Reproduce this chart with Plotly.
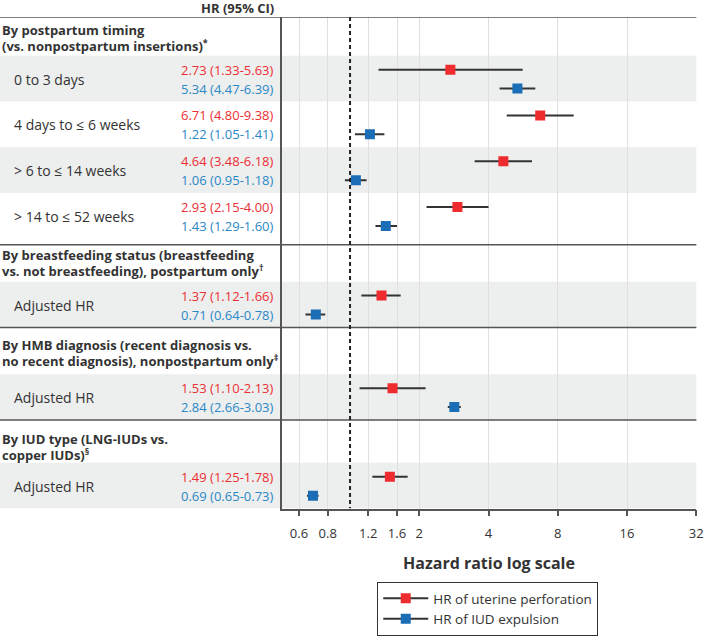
import math
import plotly.graph_objects as go

# ---------------- data ----------------
section_titles = [
    ["By postpartum timing", "(vs. nonpostpartum insertions)<sup>*</sup>"],
    ["By breastfeeding status (breastfeeding", "vs. not breastfeeding), postpartum only<sup>†</sup>"],
    ["By HMB diagnosis (recent diagnosis vs.", "no recent diagnosis), nonpostpartum only<sup>‡</sup>"],
    ["By IUD type (LNG-IUDs vs.", "copper IUDs)<sup>§</sup>"],
]
row_labels = [
    ["0 to 3 days", "4 days to ≤ 6 weeks", "> 6 to ≤ 14 weeks", "> 14 to ≤ 52 weeks"],
    ["Adjusted HR"],
    ["Adjusted HR"],
    ["Adjusted HR"],
]
perf_hr = [2.73, 6.71, 4.64, 2.93, 1.37, 1.53, 1.49]
perf_lo = [1.33, 4.80, 3.48, 2.15, 1.12, 1.10, 1.25]
perf_hi = [5.63, 9.38, 6.18, 4.00, 1.66, 2.13, 1.78]
exp_hr = [5.34, 1.22, 1.06, 1.43, 0.71, 2.84, 0.69]
exp_lo = [4.47, 1.05, 0.95, 1.29, 0.64, 2.66, 0.65]
exp_hi = [6.39, 1.41, 1.18, 1.60, 0.78, 3.03, 0.73]
tick_vals = [0.6, 0.8, 1.2, 1.6, 2, 4, 8, 16, 32]
tick_text = ["0.6", "0.8", "1.2", "1.6", "2", "4", "8", "16", "32"]
series_names = ["HR of uterine perforation", "HR of IUD expulsion"]

# ---------------- layout constants ----------------
W, H = 711, 636
TOP, BOTTOM = 17, 511
PLOT_L, PLOT_R = 285, 703.3
VAL_X = 279
FONT = "Open Sans"
RED_M, BLUE_M = "#ee2b2e", "#1b6db5"
RED_T, BLUE_T = "#ec2f33", "#2a88c6"
TXT = "#333333"
header_h = [39, 37, 47, 43]
header_line1 = [13, 10.5, 17.5, 19]
line_gap = 15.5
band_h = 46
sec_pad = [6, 0, 0, 0]

def px(x):
    return x / W

def py(y):
    return 1 - y / H

# compute row geometry
shapes, annotations = [], []
red_y, blue_y = [], []
separators = [TOP]
y = TOP
for s, lines in enumerate(section_titles):
    for k, line in enumerate(lines):
        annotations.append(dict(xref="paper", yref="y", x=px(0), y=y + header_line1[s] + k * line_gap,
                                xanchor="left", yanchor="middle", align="left",
                                text="<b>" + line + "</b>",
                                font=dict(family=FONT, size=13, color=TXT), showarrow=False))
    yb = y + header_h[s]
    for r, lab in enumerate(row_labels[s]):
        if r % 2 == 0:
            shapes.append(dict(type="rect", xref="paper", yref="y", x0=0, x1=px(PLOT_R),
                               y0=yb, y1=yb + band_h, fillcolor="#edeeee",
                               line=dict(width=0), layer="below"))
        red_y.append(yb + 14)
        blue_y.append(yb + 33)
        annotations.append(dict(xref="paper", yref="y", x=px(12), y=yb + 23.5,
                                xanchor="left", yanchor="middle", text=lab,
                                font=dict(family=FONT, size=14, color=TXT), showarrow=False))
        yb += band_h
    y = yb + sec_pad[s]
    if s < len(section_titles) - 1:
        separators.append(y)

for sy in separators:
    shapes.append(dict(type="line", xref="paper", yref="y", x0=0, x1=px(PLOT_R),
                       y0=sy, y1=sy, line=dict(color="#555555", width=1.5), layer="above"))

# dotted reference line at HR = 1
shapes.append(dict(type="line", xref="x", yref="y", x0=1, x1=1, y0=TOP, y1=BOTTOM,
                   line=dict(color="#222222", width=2, dash="4px,3px"), layer="above"))

# value text
for i in range(len(perf_hr)):
    annotations.append(dict(xref="paper", yref="y", x=px(VAL_X), y=red_y[i],
                            xanchor="right", yanchor="middle",
                            text=f"{perf_hr[i]:.2f} ({perf_lo[i]:.2f}-{perf_hi[i]:.2f})",
                            font=dict(family=FONT, size=13, color=RED_T), showarrow=False))
    annotations.append(dict(xref="paper", yref="y", x=px(VAL_X), y=blue_y[i],
                            xanchor="right", yanchor="middle",
                            text=f"{exp_hr[i]:.2f} ({exp_lo[i]:.2f}-{exp_hi[i]:.2f})",
                            font=dict(family=FONT, size=13, color=BLUE_T), showarrow=False))

annotations.append(dict(xref="paper", yref="paper", x=px(VAL_X), y=py(8),
                        xanchor="right", yanchor="middle", text="<b>HR (95% CI)</b>",
                        font=dict(family=FONT, size=13, color=TXT), showarrow=False))
annotations.append(dict(xref="paper", yref="paper", x=px((PLOT_L + PLOT_R) / 2), y=py(566),
                        xanchor="center", yanchor="middle", text="<b>Hazard ratio log scale</b>",
                        font=dict(family=FONT, size=16, color=TXT), showarrow=False))

fig = go.Figure()
fig.add_trace(go.Scatter(
    x=perf_hr, y=red_y, mode="markers", showlegend=False,
    marker=dict(symbol="square", size=10, color=RED_M),
    error_x=dict(type="data", symmetric=False,
                 array=[h - v for h, v in zip(perf_hi, perf_hr)],
                 arrayminus=[v - l for v, l in zip(perf_hr, perf_lo)],
                 color="#333333", thickness=2, width=0)))
fig.add_trace(go.Scatter(
    x=exp_hr, y=blue_y, mode="markers", showlegend=False,
    marker=dict(symbol="square", size=10, color=BLUE_M),
    error_x=dict(type="data", symmetric=False,
                 array=[h - v for h, v in zip(exp_hi, exp_hr)],
                 arrayminus=[v - l for v, l in zip(exp_hr, exp_lo)],
                 color="#333333", thickness=2, width=0)))
# legend entries
for name, col in zip(series_names, [RED_M, BLUE_M]):
    fig.add_trace(go.Scatter(x=[None], y=[None], mode="lines+markers", name=name,
                             line=dict(color="#333333", width=2),
                             marker=dict(symbol="square", size=10, color=col)))

fig.update_layout(
    width=W, height=H, margin=dict(l=0, r=0, t=0, b=0),
    paper_bgcolor="white", plot_bgcolor="rgba(0,0,0,0)",
    font=dict(family=FONT, color=TXT),
    shapes=shapes, annotations=annotations,
    showlegend=True,
    legend=dict(x=px(381), y=py(585), xanchor="left", yanchor="top",
                bordercolor="#333333", borderwidth=1, bgcolor="white",
                font=dict(family=FONT, size=13.5, color=TXT),
                itemwidth=45, tracegroupgap=0),
    xaxis=dict(type="log", domain=[px(PLOT_L), px(PLOT_R)],
               range=[math.log10(0.507), math.log10(32) + 0.0005],
               tickvals=tick_vals, ticktext=tick_text,
               showgrid=True, gridcolor="#e0e0e0", gridwidth=1,
               showline=True, linecolor="#555555", linewidth=1.5,
               ticks="outside", ticklen=6, tickcolor="#555555", tickwidth=1.5,
               ticklabelstandoff=6,
               tickfont=dict(family=FONT, size=13, color=TXT), zeroline=False),
    yaxis=dict(domain=[py(BOTTOM), py(TOP)], range=[BOTTOM, TOP],
               showgrid=False, zeroline=False, showticklabels=False,
               showline=True, linecolor="#555555", linewidth=1.5, ticks=""),
)

fig.write_html("out.html", config={"displayModeBar": False},
               post_script="document.body.style.margin='0';")
